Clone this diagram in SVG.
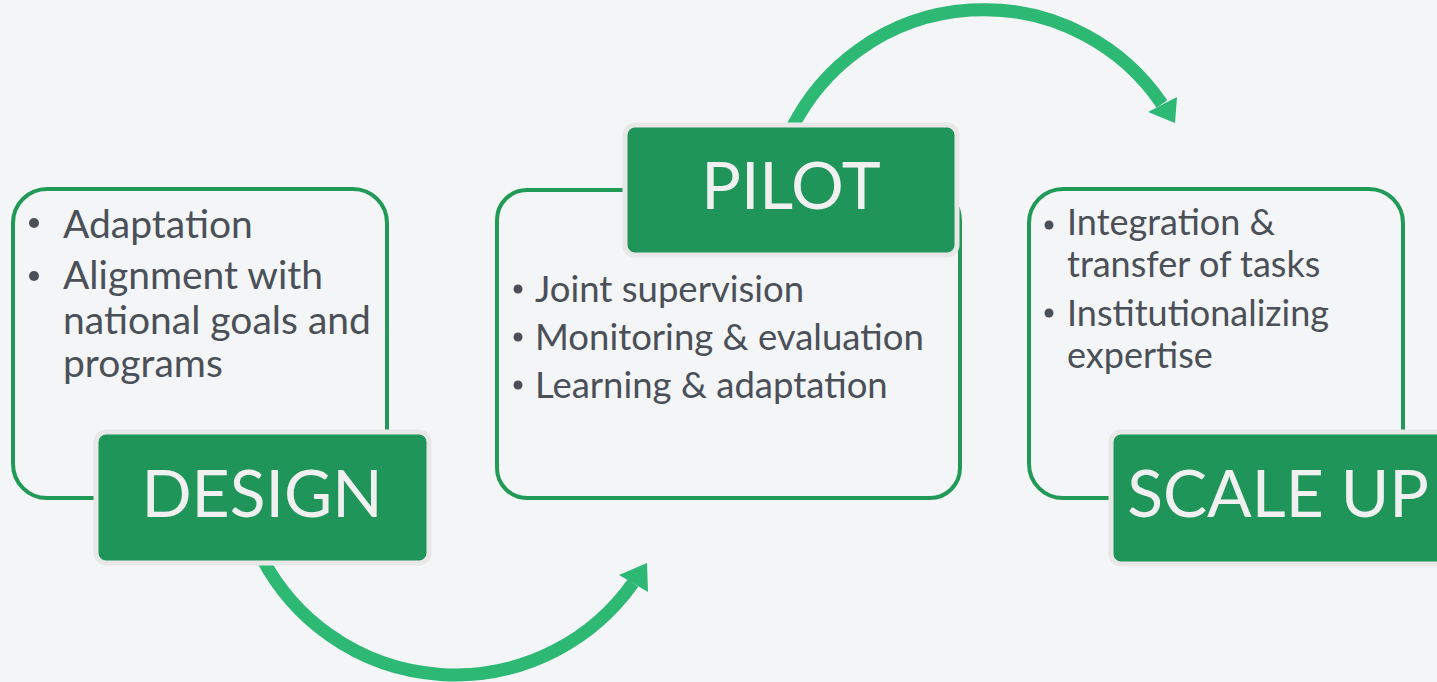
<svg xmlns="http://www.w3.org/2000/svg" width="1437" height="682" viewBox="0 0 1437 682">
<style>
.bg{fill:#f3f5f7}
.frame{fill:#f3f5f7;stroke:#229a57;stroke-width:4}
.label{fill:#1f9559;stroke:#e8e8e8;stroke-width:5}
.ltext{font-family:Lato,"Open Sans",sans-serif;font-size:66px;fill:#f0f0f0;text-anchor:middle}
.btext{font-family:Lato,"Open Sans",sans-serif;font-size:39px;fill:#4b5058}
.ptext{font-family:Lato,"Open Sans",sans-serif;font-size:36.5px;fill:#4b5058}
.stext{font-family:Lato,"Open Sans",sans-serif;font-size:36px;fill:#4b5058}
.dot{fill:#4b5058}
.arc{fill:none;stroke:#2db874;stroke-width:13}
.head{fill:#2db874}
</style>
<rect class="bg" x="0" y="0" width="1437" height="682"/>
<g id="connectors">
<path class="arc" d="M 262 558 A 218 218 0 0 0 633 583"/>
<polygon class="head" points="619,575 647,563 648,592"/>
<path class="arc" d="M 792 128 A 215 215 0 0 1 1162 104"/>
<polygon class="head" points="1148,112 1177,97 1175,123"/>
</g>
<g id="design">
<rect class="frame" x="13" y="189" width="374" height="309" rx="34"/>
<circle class="dot" cx="34" cy="223" r="5"/>
<circle class="dot" cx="34" cy="276" r="5"/>
<text class="btext" x="63" y="238">Adaptation</text>
<text class="btext" x="63" y="289">Alignment with</text>
<text class="btext" x="63" y="334">national goals and</text>
<text class="btext" x="63" y="377">programs</text>
<rect class="label" x="96" y="432" width="333" height="131" rx="10"/>
<text class="ltext" x="262" y="517">DESIGN</text>
</g>
<g id="pilot">
<rect class="frame" x="497" y="190" width="463" height="308" rx="30"/>
<circle class="dot" cx="518" cy="289" r="4.5"/>
<circle class="dot" cx="518" cy="337" r="4.5"/>
<circle class="dot" cx="518" cy="385" r="4.5"/>
<text class="ptext" x="535" y="302">Joint supervision</text>
<text class="ptext" x="535" y="350">Monitoring &amp; evaluation</text>
<text class="ptext" x="535" y="398">Learning &amp; adaptation</text>
<rect class="label" x="625" y="125" width="332" height="130" rx="10"/>
<text class="ltext" x="791" y="209">PILOT</text>
</g>
<g id="scaleup">
<rect class="frame" x="1029" y="189" width="374" height="309" rx="34"/>
<circle class="dot" cx="1049" cy="225" r="4.5"/>
<circle class="dot" cx="1049" cy="313" r="4.5"/>
<text class="stext" x="1067" y="235">Integration &amp;</text>
<text class="stext" x="1067" y="277">transfer of tasks</text>
<text class="stext" x="1067" y="326">Institutionalizing</text>
<text class="stext" x="1067" y="368">expertise</text>
<rect class="label" x="1111" y="432" width="340" height="132" rx="10"/>
<text class="ltext" x="1278" y="517">SCALE UP</text>
</g>
</svg>
